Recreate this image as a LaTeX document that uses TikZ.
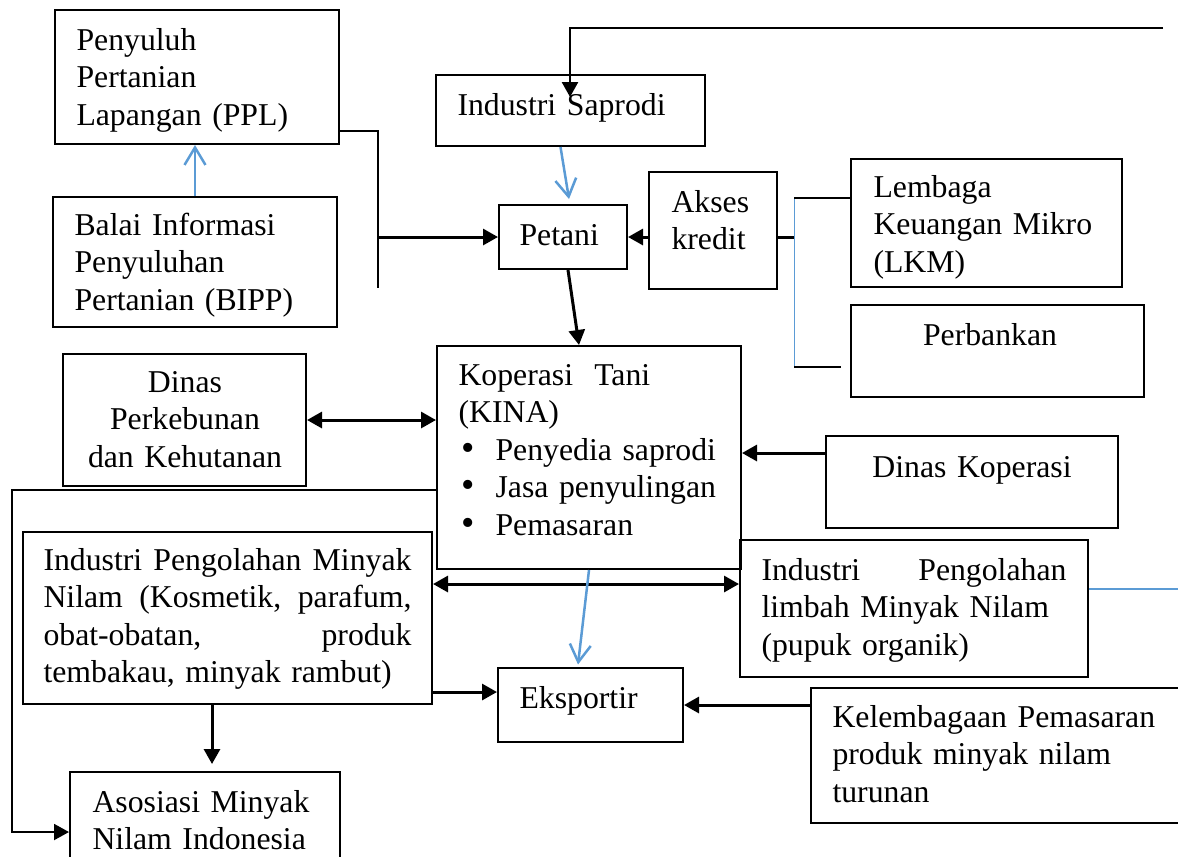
\documentclass[tikz,border=0pt]{standalone}
\usepackage{fontspec}
\setmainfont{Liberation Serif}
\usetikzlibrary{arrows.meta, fit}
\definecolor{wordblue}{RGB}{91,155,213}
\newcommand\jline[2]{\makebox[#1][s]{#2}}
\newcommand\kbullet{\hspace*{1pt}\scalebox{1.2}{\textbullet}\hspace{8.5pt}}
\tikzset{box/.style={draw, line width=0.8pt, inner sep=0pt}}
\tikzset{txt/.style={inner sep=0pt, anchor=base west, align=left, text width=#1}}
\tikzset{txt/.default=140pt}
\tikzset{arr/.style={line width=1.2pt, -{Triangle[length=6pt, width=6.4pt]}}}
\tikzset{dblarr/.style={line width=1.2pt, {Triangle[length=6pt, width=6.4pt]}-{Triangle[length=6pt, width=6.4pt]}}}
\tikzset{bluearr/.style={wordblue, line width=1pt, -{Straight Barb[length=7pt, width=8.4pt]}}}
\tikzset{link/.style={line width=0.6pt}}

\begin{document}
\begin{tikzpicture}[x=0.4pt, y=-0.4pt, font=\fontsize{12.7}{15}\selectfont]
    \useasboundingbox (0,0) rectangle (1178,856);
    \clip (0,0) rectangle (1178,856);

    \node[box, fit={(55,10) (339,144)}] (ppl) {};
    \node[txt] (ppl-t) at (76,50) {Penyuluh\\Pertanian\\Lapangan (PPL)};
    \node[box, fit={(53,197) (337,327)}] (bipp) {};
    \node[txt] (bipp-t) at (74,235) {Balai Informasi\\Penyuluhan\\Pertanian (BIPP)};
    \node[box, fit={(436,75) (705,146)}] (saprodi) {};
    \node[txt] (saprodi-t) at (457,115) {Industri Saprodi};
    \node[box, fit={(499,205) (627,269)}] (petani) {};
    \node[txt] (petani-t) at (519,245) {Petani};
    \node[box, fit={(649,172) (777,289)}] (akses) {};
    \node[txt] (akses-t) at (671,212) {Akses\\kredit};
    \node[box, fit={(851,159) (1122,287)}] (lkm) {};
    \node[txt] (lkm-t) at (873,197) {Lembaga\\Keuangan Mikro\\(LKM)};
    \node[box, fit={(851,305) (1144,397)}] (bank) {};
    \node[txt=80pt, align=center, anchor=base] (bank-t) at (990,345) {Perbankan};
    \node[box, fit={(437,346) (741,569)}] (kina) {};
    \node[txt] (kina-t) at (458,385) {Koperasi\ \ Tani\\(KINA)\\
        \kbullet Penyedia saprodi\\
        \kbullet Jasa penyulingan\\
        \kbullet Pemasaran};
    \node[box, fit={(63,354) (306,486)}] (dinasbun) {};
    \node[txt=100pt, align=center, anchor=base] (dinasbun-t) at (185,392) {Dinas\\Perkebunan\\dan Kehutanan};
    \node[box, fit={(826,436) (1118,528)}] (dinaskop) {};
    \node[txt=100pt, align=center, anchor=base] (dinaskop-t) at (972,477) {Dinas Koperasi};
    \node[box, fit={(23,532) (432,704)}] (olahan) {};
    \node[txt=150pt] (olahan-t) at (43,570) {\jline{147.2pt}{Industri\hfill Pengolahan\hfill Minyak}\\
        \jline{147.2pt}{Nilam\hfill (Kosmetik,\hfill parafum,}\\
        \jline{147.2pt}{obat-obatan,\hfill produk}\\
        tembakau, minyak rambut)};
    \node[box, fit={(740,540) (1088,677)}] (limbah) {};
    \node[txt=125pt] (limbah-t) at (761,580) {\jline{122pt}{Industri\hfill Pengolahan}\\limbah Minyak Nilam\\(pupuk organik)};
    \node[box, fit={(498,668) (683,742)}] (ekspor) {};
    \node[txt] (ekspor-t) at (519,708) {Eksportir};
    \node[box, fit={(811,688) (1200,823)}] (lembaga) {};
    \node[txt] (lembaga-t) at (832,727) {Kelembagaan Pemasaran\\produk minyak nilam\\turunan};
    \node[box, fit={(70,772) (340,880)}] (asosiasi) {};
    \node[txt] (asosiasi-t) at (92,812) {Asosiasi Minyak\\Nilam Indonesia};

    \coordinate (brkT) at (378,131);
    \coordinate (brkB) at (378,288);
    \coordinate (topR) at (1163,28);
    \coordinate (sapIn) at (570,97);
    \coordinate (kT) at (794,198);
    \coordinate (kB) at (794,367);
    \coordinate (kE) at (841,367);
    \coordinate (kopY) at (0,453);
    \coordinate (frT) at (12,490);
    \coordinate (frB) at (12,832);
    \coordinate (limY) at (0,584);
    \coordinate (limR) at (1178,589);
    \coordinate (ekY) at (0,692);
    \coordinate (asX) at (212,764);

    \draw[bluearr] (bipp.north) -- (bipp.north |- ppl.south);
    \draw[link] (ppl.east |- brkT) -- (brkT) -- (brkB);
    \draw[arr] (brkT |- petani.west) -- (petani.west);
    \draw[arr, line width=1pt] (topR) -| (sapIn);
    \draw[bluearr] ([xshift=-4pt]saprodi.south) -- ([xshift=2.4pt, yshift=2pt]petani.north);
    \draw[arr] (akses.west |- petani.east) -- (petani.east);
    \draw[line width=1.2pt] (akses.east |- petani.east) -- (kT |- petani.east);
    \draw[wordblue, line width=0.4pt] (kT) -- (kB);
    \draw[link] (kT) -- (kT -| lkm.west);
    \draw[link] (kB) -- (kE);
    \draw[arr] ([xshift=2pt]petani.south) -- ([xshift=-4pt]kina.north);
    \draw[dblarr] (dinasbun.east) -- (dinasbun.east -| kina.west);
    \draw[arr] (dinaskop.west |- kopY) -- (kina.east |- kopY);
    \draw[arr, line width=0.8pt] (kina.west |- frT) -- (frT) -- (frB) -- (frB -| asosiasi.west);
    \draw[dblarr] (olahan.east |- limY) -- (limbah.west |- limY);
    \draw[wordblue, line width=0.6pt] (limbah.east |- limR) -- (limR);
    \draw[bluearr] (kina.south) -- ([xshift=-5pt, yshift=1pt]ekspor.north);
    \draw[arr] (olahan.east |- ekY) -- (ekspor.west |- ekY);
    \draw[arr] (lembaga.west |- ekspor.east) -- (ekspor.east);
    \draw[arr] (olahan.south -| asX) -- (asX);
\end{tikzpicture}
\end{document}
